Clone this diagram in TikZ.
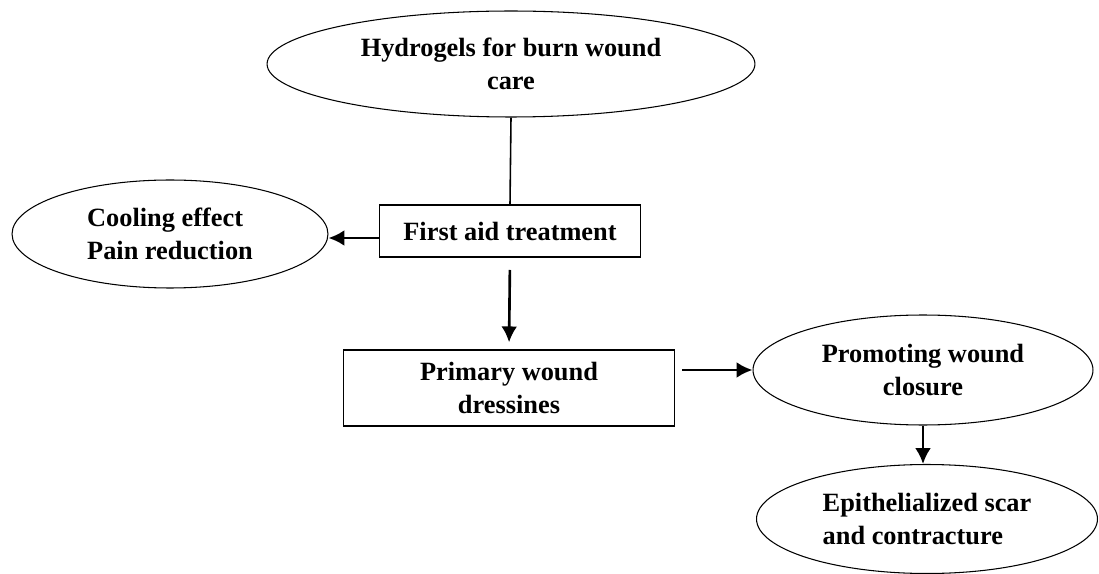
\documentclass[tikz,border=0pt]{standalone}
\usepackage{fontspec}
\setmainfont{Liberation Serif}
\usetikzlibrary{shapes,arrows.meta,positioning,calc}

\begin{document}
\begin{tikzpicture}[x=0.02cm,y=-0.02cm,
  oval/.style={draw,ellipse,line width=0.6pt,inner sep=0pt,align=center,
    font=\fontsize{15}{19}\selectfont\bfseries},
  box/.style={draw,rectangle,line width=0.8pt,inner sep=0pt,align=center,
    font=\fontsize{15}{19}\selectfont\bfseries},
  arr/.style={-{Latex[length=9pt,width=9pt]},line width=1.5pt}]
\useasboundingbox (0,0) rectangle (1099,574);
% Nodes
\node[oval,minimum width=9.76cm,minimum height=2.12cm] (hydro) at (511,64) {Hydrogels for burn wound\\care};
\node[box,minimum width=5.22cm,minimum height=1.04cm] (first) at (510,231) {First aid treatment};
\node[oval,align=left,minimum width=6.32cm,minimum height=2.16cm] (cool) at (170,234) {Cooling effect\\Pain reduction};
\node[box,minimum width=6.62cm,minimum height=1.52cm] (primary) at (509,388) {Primary wound\\dressines};
\node[oval,minimum width=6.8cm,minimum height=2.2cm] (promo) at (923,370) {Promoting wound\\closure};
\node[oval,align=left,minimum width=6.82cm,minimum height=2.18cm] (epi) at (927,519) {Epithelialized scar\\and contracture};
% Connectors
\draw[line width=0.9pt] (hydro.south) -- (first.north);
\draw[arr] (first.west |- 0,238) -- (cool.east |- 0,238);
\draw[arr,shorten <=7pt,shorten >=4pt] (first.south) -- (primary.north);
\draw[arr,shorten <=4pt] (promo.west -| primary.east) -- (promo.west);
\draw[arr] (promo.south) -- (promo.south |- epi.north);
\end{tikzpicture}
\end{document}
